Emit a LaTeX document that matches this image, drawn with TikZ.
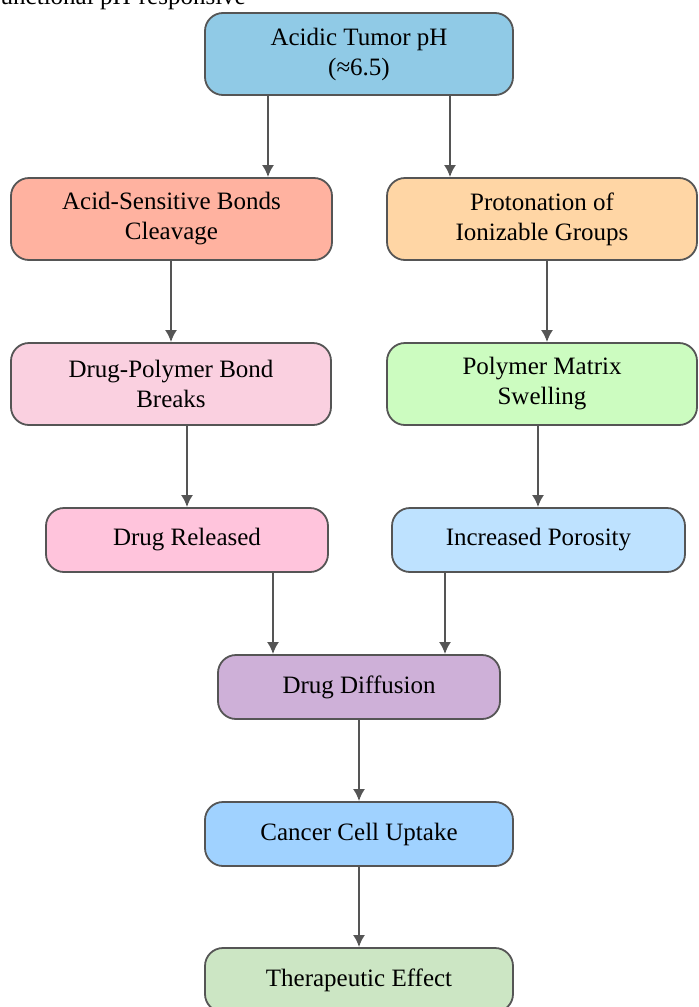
\documentclass[tikz,border=0pt]{standalone}
\usepackage{fontspec}
\setmainfont{Liberation Serif}
\usepackage{xcolor}
\usetikzlibrary{positioning, calc, arrows.meta}

\definecolor{edgegray}{RGB}{85,85,85}
\definecolor{acidblue}{RGB}{144,202,230}
\definecolor{cleavesalmon}{RGB}{255,178,160}
\definecolor{protonpeach}{RGB}{255,214,165}
\definecolor{breakpink}{RGB}{250,208,224}
\definecolor{swellgreen}{RGB}{204,252,192}
\definecolor{releasepink}{RGB}{255,196,220}
\definecolor{porosityblue}{RGB}{190,226,255}
\definecolor{diffusionlilac}{RGB}{206,176,216}
\definecolor{uptakeblue}{RGB}{160,210,255}
\definecolor{effectgreen}{RGB}{204,230,196}

\begin{document}
\begin{tikzpicture}[x=0.5pt, y=-0.5pt, >={Latex[length=6pt,width=6pt]},
    box/.style={draw=edgegray, line width=0.9pt, rounded corners=9pt, align=center,
                inner sep=0pt, font=\fontsize{12.5}{15}\selectfont},
    twoline/.style={box, minimum height=41pt},
    oneline/.style={box, minimum height=32pt},
    flow/.style={->, draw=edgegray, line width=1pt}]

    % Frame
    \useasboundingbox (0,0) rectangle (698,1007);

    % Caption, cut off at the top
    \node[anchor=base west, inner sep=0pt, font=\fontsize{12.5}{15}\selectfont] (caption) at (-8,4) {functional pH-responsive};

    % Trigger
    \node[twoline, fill=acidblue, minimum width=154pt] (acid) at (359,54) {Acidic Tumor pH\\(≈6.5)};

    % Left branch
    \node[twoline, fill=cleavesalmon, minimum width=160.5pt] (cleave) at (171.5,219) {Acid-Sensitive Bonds\\Cleavage};
    \node[twoline, fill=breakpink, minimum width=160pt] (bondbreak) at (171,384) {Drug-Polymer Bond\\Breaks};
    \node[oneline, fill=releasepink, minimum width=141pt] (released) at (187,540) {Drug Released};

    % Right branch
    \node[twoline, fill=protonpeach, minimum width=155pt] (proton) at (542,219) {Protonation of\\Ionizable Groups};
    \node[twoline, fill=swellgreen, minimum width=155pt] (swell) at (542,384) {Polymer Matrix\\Swelling};
    \node[oneline, fill=porosityblue, minimum width=146.5pt] (porosity) at (538.5,540) {Increased Porosity};

    % Common path
    \node[oneline, fill=diffusionlilac, minimum width=141pt] (diffusion) at (359,687) {Drug Diffusion};
    \node[oneline, fill=uptakeblue, minimum width=154pt] (uptake) at (359,834) {Cancer Cell Uptake};
    \node[oneline, fill=effectgreen, minimum width=154pt] (effect) at (359,980) {Therapeutic Effect};

    % Arrows
    \draw[flow] (acid.south -| 268,0) -- (cleave.north -| 268,0);
    \draw[flow] (acid.south -| 450,0) -- (proton.north -| 450,0);
    \draw[flow] (cleave.south -| 171,0) -- (bondbreak.north -| 171,0);
    \draw[flow] (proton.south -| 547,0) -- (swell.north -| 547,0);
    \draw[flow] (bondbreak.south -| 187,0) -- (released.north -| 187,0);
    \draw[flow] (swell.south -| 538,0) -- (porosity.north -| 538,0);
    \draw[flow] (released.south -| 273,0) -- (diffusion.north -| 273,0);
    \draw[flow] (porosity.south -| 445,0) -- (diffusion.north -| 445,0);
    \draw[flow] (diffusion) -- (uptake);
    \draw[flow] (uptake) -- (effect);

\end{tikzpicture}
\end{document}
